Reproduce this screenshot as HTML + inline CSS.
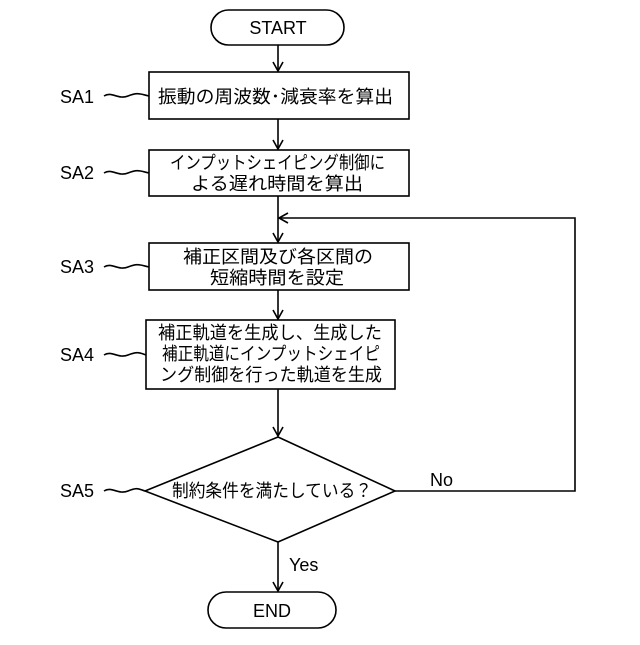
<!DOCTYPE html>
<html><head><meta charset="utf-8"><style>html,body{margin:0;padding:0;background:#fff}</style></head><body>
<svg width="640" height="640" xmlns="http://www.w3.org/2000/svg" font-family="'Liberation Sans','Noto Sans CJK JP',sans-serif" fill="none" stroke="#000" stroke-width="1.6">
<rect x="211" y="10" width="133" height="35" rx="17.5"/>
<rect x="208" y="592" width="128" height="36" rx="18"/>
<rect x="149" y="72" width="260" height="47"/>
<rect x="149" y="150" width="260" height="46"/>
<rect x="149" y="243" width="260" height="47"/>
<rect x="146" y="320" width="249" height="69"/>
<polygon points="278,437 395,491 278,542 145,491"/>
<g>
<line x1="278" y1="45" x2="278" y2="71"/><path d="M273,62 L278,71 L283,62"/>
<line x1="278" y1="119" x2="278" y2="149"/><path d="M273,140 L278,149 L283,140"/>
<line x1="278" y1="196" x2="278" y2="242"/><path d="M273,233 L278,242 L283,233"/>
<line x1="278" y1="290" x2="278" y2="319"/><path d="M273,310 L278,319 L283,310"/>
<line x1="278" y1="389" x2="278" y2="436"/><path d="M273,427 L278,436 L283,427"/>
<line x1="278" y1="542" x2="278" y2="591"/><path d="M273,582 L278,591 L283,582"/>
</g>
<polyline points="395,491 575,491 575,218 279,218"/>
<path d="M288,213 L279,218 L288,223"/>
<path d="M104,96 C112,91 118,100 128,96 S140,94 149,96"/>
<path d="M104,173 C112,168 118,177 128,173 S140,171 149,173"/>
<path d="M104,267 C112,262 118,271 128,267 S140,265 149,267"/>
<path d="M104,355 C112,350 118,359 128,355 S140,353 146,355"/>
<path d="M104,491 C112,486 118,495 128,491 S138,489 145,491"/>
<g fill="#000" stroke="none" font-size="18">
<text x="278" y="34" text-anchor="middle">START</text>
<text x="272" y="617" text-anchor="middle">END</text>
<text x="60" y="103">SA1</text>
<text x="60" y="179">SA2</text>
<text x="60" y="273">SA3</text>
<text x="60" y="361">SA4</text>
<text x="60" y="497">SA5</text>
<text x="430" y="486">No</text>
<text x="289" y="571">Yes</text>
<text x="158" y="103" textLength="235" lengthAdjust="spacingAndGlyphs">振動の周波数･減衰率を算出</text>
<text x="170" y="169" textLength="215" lengthAdjust="spacingAndGlyphs">インプットシェイピング制御に</text>
<text x="191" y="190" textLength="172" lengthAdjust="spacingAndGlyphs">よる遅れ時間を算出</text>
<text x="183" y="263" textLength="190" lengthAdjust="spacingAndGlyphs">補正区間及び各区間の</text>
<text x="210" y="284" textLength="134" lengthAdjust="spacingAndGlyphs">短縮時間を設定</text>
<text x="158" y="339" textLength="224" lengthAdjust="spacingAndGlyphs">補正軌道を生成し、生成した</text>
<text x="162" y="360" textLength="218" lengthAdjust="spacingAndGlyphs">補正軌道にインプットシェイピ</text>
<text x="160" y="381" textLength="222" lengthAdjust="spacingAndGlyphs">ング制御を行った軌道を生成</text>
<text x="172" y="497" textLength="200" lengthAdjust="spacingAndGlyphs">制約条件を満たしている？</text>
</g>
</svg>
</body></html>
